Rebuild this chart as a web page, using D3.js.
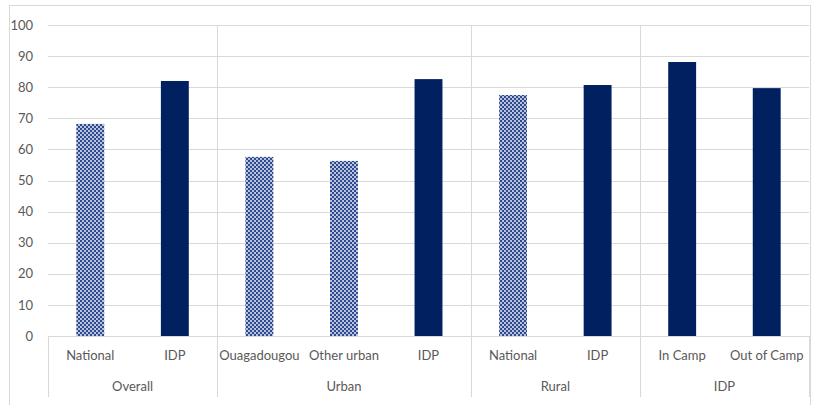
<!DOCTYPE html>
<html><head><meta charset="utf-8">
<script src="https://cdn.jsdelivr.net/npm/d3@7"></script>
<style>body{margin:0;background:#fff}text{font-family:Lato,"Open Sans",sans-serif}</style>
</head><body>
<script>
const categories = ["National","IDP","Ouagadougou","Other urban","IDP","National","IDP","In Camp","Out of Camp"];
const values = [68.2, 82.0, 57.6, 56.3, 82.6, 77.5, 80.7, 88.1, 79.7];
const patterned = [true, false, true, true, false, true, false, false, false];
const groups = ["Overall","Urban","Rural","IDP"];
const groupSizes = [2, 3, 2, 2];
const yTicks = [0,10,20,30,40,50,60,70,80,90,100];

(function(){
const W = 814, H = 405;
const svg = d3.select("body").append("svg").attr("width", W).attr("height", H);
const defs = svg.append("defs");
const pat = defs.append("pattern").attr("id","chk").attr("patternUnits","userSpaceOnUse").attr("width",4).attr("height",4);
pat.append("rect").attr("width",4).attr("height",4).attr("fill","#b9c3de");
pat.append("rect").attr("width",2).attr("height",2).attr("fill","#2e4a8c");
pat.append("rect").attr("x",2).attr("y",2).attr("width",2).attr("height",2).attr("fill","#2e4a8c");

svg.append("rect").attr("x",9.5).attr("y",5.5).attr("width",801).attr("height",420).attr("fill","none").attr("stroke","#d9d9d9");

const pl = 48, pr = 809, pt = 25, pb = 336;
const idx = categories.map((d,i)=>i);
const x = d3.scaleBand().domain(idx).range([pl,pr]).paddingInner(0.67).paddingOuter(0.335);
const y = d3.scaleLinear().domain([0,100]).range([pb, pt]);
const step = x.step();
const edge = i => x(i) - step*x.paddingInner()/2;

svg.append("g").selectAll("line").data(yTicks.filter(t=>t>0)).join("line")
  .attr("x1",pl).attr("x2",pr).attr("y1",d=>Math.round(y(d))+0.5).attr("y2",d=>Math.round(y(d))+0.5)
  .attr("stroke","#d9d9d9").attr("stroke-width",1);

let bounds = [0]; groupSizes.reduce((a,s)=>{bounds.push(a+s); return a+s;},0);
const bx = bounds.map(b => b < categories.length ? edge(b) : pr);
svg.append("g").selectAll("line").data(bx).join("line")
  .attr("x1",d=>Math.round(d)+0.5).attr("x2",d=>Math.round(d)+0.5)
  .attr("y1",(d,i)=> (i===0||i===bx.length-1) ? pb : pt).attr("y2",397)
  .attr("stroke","#d9d9d9");
svg.append("line").attr("x1",pl).attr("x2",pr).attr("y1",pb+0.5).attr("y2",pb+0.5).attr("stroke","#d9d9d9");

const yAxis = d3.axisLeft(y).tickValues(yTicks).tickSize(0).tickPadding(15);
const gy = svg.append("g").attr("transform",`translate(${pl},0)`).call(yAxis);
gy.select(".domain").remove();
gy.selectAll("text").attr("fill","#595959").style("font-size","13px").style("font-family","Lato,'Open Sans',sans-serif");

svg.append("g").selectAll("rect").data(idx).join("rect")
  .attr("x",i=>x(i)).attr("width",x.bandwidth())
  .attr("y",i=>y(values[i])).attr("height",i=>pb - y(values[i]))
  .attr("fill",i=>patterned[i] ? "url(#chk)" : "#002060");

svg.append("g").selectAll("text").data(idx).join("text")
  .attr("x",i=>x(i)+x.bandwidth()/2).attr("y",360)
  .attr("text-anchor","middle").attr("fill","#595959").style("font-size","13px")
  .text(i=>categories[i]);

svg.append("g").selectAll("text").data(groups).join("text")
  .attr("x",(d,i)=>(bx[i]+bx[i+1])/2).attr("y",391)
  .attr("text-anchor","middle").attr("fill","#595959").style("font-size","13px")
  .text(d=>d);
})();
</script>
</body></html>
